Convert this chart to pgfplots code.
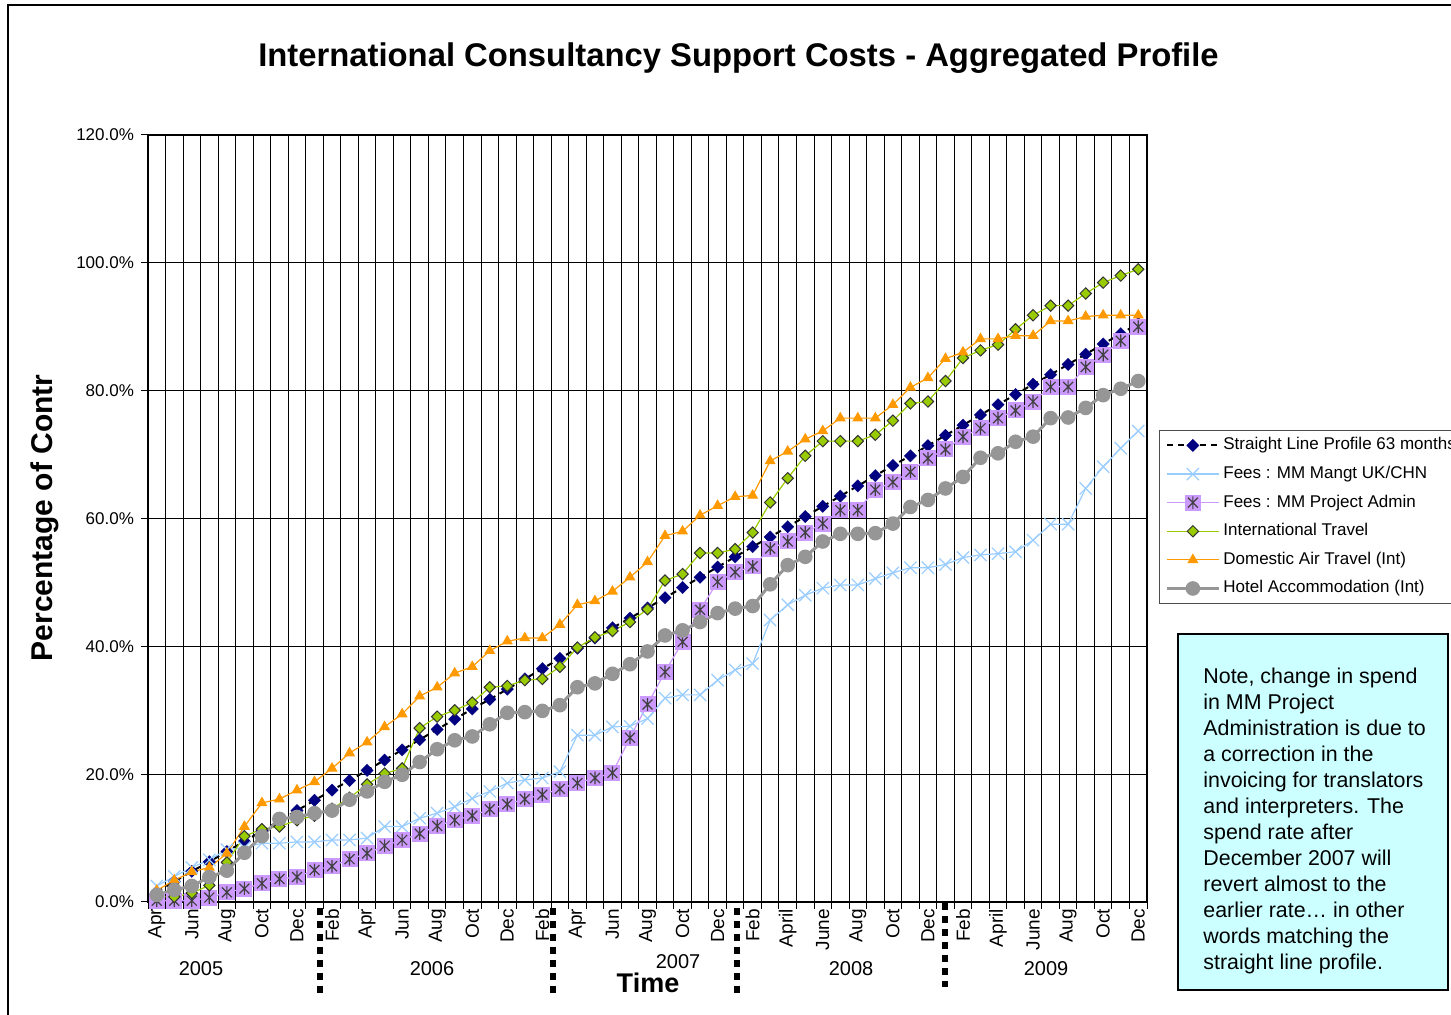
\documentclass[border=0pt]{standalone}
\usepackage{fontspec}
\setmainfont{Liberation Sans}
\usepackage{pgfplots}
\usepackage{pgfplotstable}
\pgfplotsset{compat=1.18}
\definecolor{navyb}{HTML}{000080}
\definecolor{skyb}{HTML}{99CCFF}
\definecolor{lav}{HTML}{CC99FF}
\definecolor{olivg}{HTML}{99CC00}
\definecolor{orng}{HTML}{FF9900}
\definecolor{hgray}{HTML}{969696}
\definecolor{astg}{HTML}{404040}
\definecolor{notecyan}{HTML}{CCFFFF}

\pgfdeclareplotmark{sqast}{%
  \pgfpathrectangle{\pgfqpoint{-\pgfplotmarksize}{-\pgfplotmarksize}}{\pgfqpoint{2\pgfplotmarksize}{2\pgfplotmarksize}}%
  \pgfsetfillcolor{lav}\pgfusepath{fill}%
  \pgfsetstrokecolor{astg}\pgfsetlinewidth{0.6pt}%
  \pgfpathmoveto{\pgfqpoint{0pt}{-0.8\pgfplotmarksize}}\pgfpathlineto{\pgfqpoint{0pt}{0.8\pgfplotmarksize}}%
  \pgfpathmoveto{\pgfqpoint{-0.62\pgfplotmarksize}{-0.62\pgfplotmarksize}}\pgfpathlineto{\pgfqpoint{0.62\pgfplotmarksize}{0.62\pgfplotmarksize}}%
  \pgfpathmoveto{\pgfqpoint{-0.62\pgfplotmarksize}{0.62\pgfplotmarksize}}\pgfpathlineto{\pgfqpoint{0.62\pgfplotmarksize}{-0.62\pgfplotmarksize}}%
  \pgfusepath{stroke}%
}

\pgfplotstableread{
x s1 s2 s3 s4 s5 s6
0.5 1.6 2.5 0.2 0.8 1.8 1.1
1.5 3.2 4.0 0.2 0.8 3.4 1.9
2.5 4.8 5.4 0.2 1.4 4.7 2.5
3.5 6.3 6.6 0.7 2.6 5.4 3.9
4.5 7.9 8.2 1.5 6.2 7.6 4.9
5.5 9.5 8.5 2.1 10.3 11.8 7.7
6.5 11.1 9.2 2.9 11.4 15.5 10.3
7.5 12.7 9.2 3.6 11.8 16.1 13.0
8.5 14.3 9.4 3.9 12.8 17.5 13.3
9.5 15.9 9.4 5.0 13.5 18.8 13.9
10.5 17.5 9.7 5.6 14.6 20.9 14.3
11.5 19.0 9.7 6.7 16.3 23.3 16.0
12.5 20.6 10.0 7.6 18.4 25.0 17.3
13.5 22.2 11.8 8.8 20.1 27.4 18.8
14.5 23.8 11.8 9.7 20.9 29.4 19.9
15.5 25.4 13.1 10.7 27.2 32.2 21.9
16.5 27.0 13.9 11.9 29.0 33.6 23.9
17.5 28.6 14.9 12.8 30.0 35.8 25.3
18.5 30.2 16.2 13.5 31.2 36.8 25.9
19.5 31.7 17.3 14.5 33.6 39.3 27.8
20.5 33.3 18.6 15.3 33.8 40.8 29.6
21.5 34.9 19.1 16.1 34.7 41.3 29.7
22.5 36.5 19.4 16.8 34.9 41.3 29.9
23.5 38.1 20.4 17.7 36.8 43.4 30.8
24.5 39.7 26.1 18.6 39.8 46.5 33.6
25.5 41.3 26.1 19.4 41.4 47.1 34.2
26.5 42.9 27.4 20.2 42.4 48.6 35.7
27.5 44.4 27.5 25.7 43.8 50.8 37.2
28.5 46.0 28.7 30.9 45.8 53.2 39.2
29.5 47.6 31.9 36.0 50.3 57.3 41.7
30.5 49.2 32.4 40.7 51.3 58.0 42.5
31.5 50.8 32.4 45.7 54.6 60.5 43.8
32.5 52.4 34.7 50.1 54.6 62.0 45.2
33.5 54.0 36.3 51.6 55.2 63.4 45.9
34.5 55.6 37.3 52.5 57.8 63.6 46.3
35.5 57.1 44.1 55.3 62.5 69.0 49.7
36.5 58.7 46.5 56.4 66.3 70.5 52.7
37.5 60.3 48.0 57.8 69.8 72.4 54.0
38.5 61.9 49.1 59.2 72.1 73.7 56.4
39.5 63.5 49.6 61.3 72.1 75.7 57.6
40.5 65.1 49.6 61.3 72.1 75.7 57.6
41.5 66.7 50.6 64.5 73.1 75.7 57.7
42.5 68.3 51.5 65.7 75.3 77.8 59.2
43.5 69.8 52.3 67.3 78.0 80.5 61.8
44.5 71.4 52.3 69.4 78.3 82.0 62.9
45.5 73.0 52.8 70.8 81.5 85.0 64.7
46.5 74.6 53.9 72.8 85.1 86.0 66.5
47.5 76.2 54.3 74.1 86.3 88.1 69.5
48.5 77.8 54.5 75.7 87.2 88.1 70.2
49.5 79.4 54.8 76.9 89.6 88.6 72.0
50.5 81.0 56.6 78.3 91.8 88.6 72.8
51.5 82.5 59.1 80.6 93.3 90.9 75.7
52.5 84.1 59.1 80.6 93.3 90.9 75.8
53.5 85.7 64.7 83.7 95.2 91.6 77.3
54.5 87.3 68.1 85.6 96.9 91.8 79.3
55.5 88.9 71.0 87.8 98.0 91.8 80.3
56.5 90.5 73.7 90.0 99.0 91.8 81.5
}\data

\begin{document}
\begin{tikzpicture}
\path[use as bounding box] (0,0) rectangle (725.5pt,507.5pt);
\draw[line width=0.6pt] (4pt,-10pt) -- (4pt,505pt) -- (740pt,505pt);
\node[font=\bfseries\fontsize{16.4}{19}\selectfont, anchor=base] at (369.25pt,474pt) {International Consultancy Support Costs - Aggregated Profile};
\node[rotate=90, font=\bfseries\fontsize{15}{18}\selectfont] at (22.5pt,248.5pt) {Percentage of Contr};

\begin{axis}[
  at={(74pt,56.5pt)}, anchor=south west,
  scale only axis, width=499.5pt, height=383.5pt,
  xmin=0, xmax=57, ymin=0, ymax=120,
  clip=false,
  axis line style={black, line width=0.6pt},
  tick pos=left,
  xtick={0,1,...,57}, xticklabels={},
  ytick={0,20,...,120},
  yticklabels={0.0\%,20.0\%,40.0\%,60.0\%,80.0\%,100.0\%,120.0\%},
  yticklabel style={font=\fontsize{8.5}{10}\selectfont},
  grid=major, major grid style={black, line width=0.5pt},
  tick align=outside, major tick length=3.5pt, tick style={black, line width=0.5pt},
  extra x ticks={0.5,2.5,...,56.5},
  extra x tick labels={Apr,Jun,Aug,Oct,Dec,Feb,Apr,Jun,Aug,Oct,Dec,Feb,Apr,Jun,Aug,Oct,Dec,Feb,April,June,Aug,Oct,Dec,Feb,April,June,Aug,Oct,Dec},
  extra x tick style={grid=none, major tick length=0pt, tick label style={rotate=90, anchor=east, font=\fontsize{9.5}{11}\selectfont}},
  legend image code/.code={\draw[mark repeat=2,mark phase=2] plot coordinates {(0pt,0pt) (13pt,0pt) (26pt,0pt)};},
  legend cell align=left,
  legend style={at={(1.012,0.6154)}, anchor=north west, draw=black!70, fill=white,
    font=\fontsize{8.5}{10}\selectfont, inner xsep=3pt, inner ysep=2pt, row sep=3.2pt,
    nodes={inner sep=1.5pt, text height=6.3pt, text depth=1.8pt}},
]
\addplot[black, line width=1pt, dash pattern=on 3pt off 2.5pt, mark=square*, mark size=2.2pt,
  mark options={solid, rotate=45, fill=navyb, draw=navyb, line width=0.1pt}] table[x=x,y=s1]{\data};
\addlegendentry{Straight Line Profile 63 months}
\addplot[skyb, line width=0.6pt, mark=x, mark size=4.3pt, mark options={solid}] table[x=x,y=s2]{\data};
\addlegendentry{Fees : MM Mangt UK/CHN}
\addplot[lav, line width=0.6pt, mark=sqast, mark size=4pt] table[x=x,y=s3]{\data};
\addlegendentry{Fees : MM Project Admin}
\addplot[olivg, line width=0.6pt, mark=square*, mark size=2pt,
  mark options={rotate=45, fill=olivg, draw=black!80, line width=0.5pt}] table[x=x,y=s4]{\data};
\addlegendentry{International Travel}
\addplot[orng, line width=0.6pt, mark=triangle*, mark size=2.6pt, mark options={fill=orng, draw=orng}] table[x=x,y=s5]{\data};
\addlegendentry{Domestic Air Travel (Int)}
\addplot[hgray, line width=1.5pt, mark=*, mark size=2.9pt, mark options={fill=hgray, draw=hgray}] table[x=x,y=s6]{\data};
\addlegendentry{Hotel Accommodation (Int)}
\end{axis}

% year separators
\foreach \xx/\ya/\yb in {160/53.5/11, 276.5/53.5/11, 368.5/53.5/11, 472.5/56/14}{
  \draw[line width=3.4pt, dash pattern=on 3.3pt off 3.2pt] (\xx pt,\ya pt) -- (\xx pt,\yb pt);
}
\node[font=\fontsize{10}{12}\selectfont] at (100.5pt,23pt) {2005};
\node[font=\fontsize{10}{12}\selectfont] at (216pt,23pt) {2006};
\node[font=\fontsize{10}{12}\selectfont] at (339pt,26.5pt) {2007};
\node[font=\fontsize{10}{12}\selectfont] at (425.5pt,23pt) {2008};
\node[font=\fontsize{10}{12}\selectfont] at (523pt,23pt) {2009};
\node[font=\bfseries\fontsize{13.5}{16}\selectfont] at (324pt,16pt) {Time};

% note box
\draw[fill=notecyan, line width=0.6pt] (589pt,190.5pt) rectangle (724pt,12.5pt);
\node[anchor=base west, inner sep=0pt] at (601.5pt,165.5pt) {\parbox[t]{120pt}{\fontsize{10.7}{13}\selectfont
Note, change in spend\\
in MM Project\\
Administration is due to\\
a correction in the\\
invoicing for translators\\
and interpreters. The\\
spend rate after\\
December 2007 will\\
revert almost to the\\
earlier rate\dots\ in other\\
words matching the\\
straight line profile.}};
\end{tikzpicture}
\end{document}
